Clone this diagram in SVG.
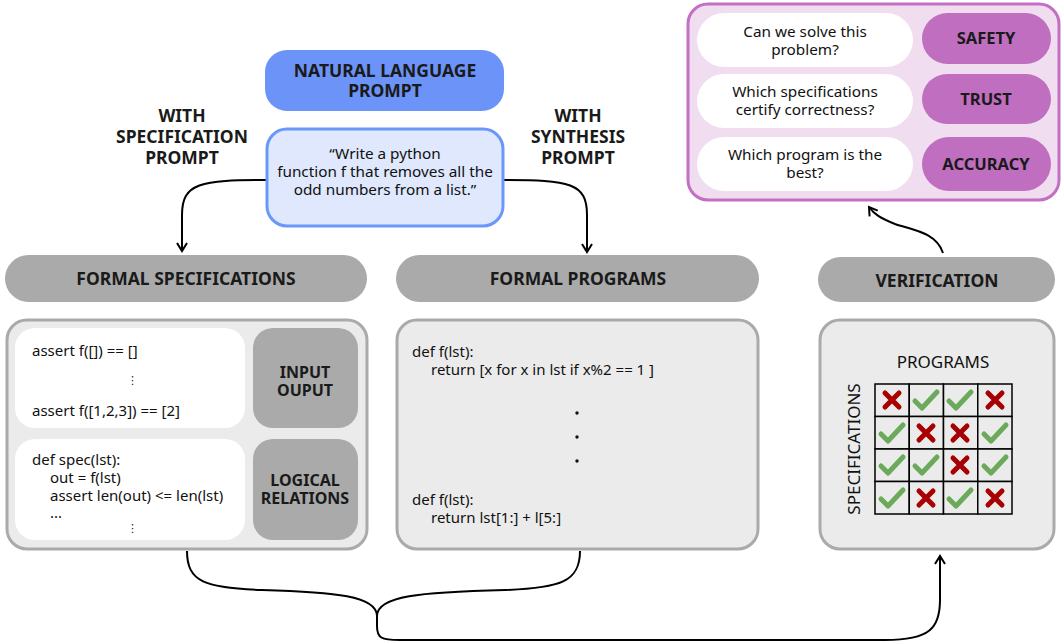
<svg xmlns="http://www.w3.org/2000/svg" xmlns:xlink="http://www.w3.org/1999/xlink" width="1062" height="643" viewBox="0 0 1062 643">
<defs>
<style>
text{font-family:"Noto Sans","Open Sans","DejaVu Sans",sans-serif;fill:#111;}
.h{font-size:17.5px;font-weight:bold;text-anchor:middle;fill:#1a1a1a;}
.c{font-size:15px;}
.q{font-size:15.3px;text-anchor:middle;}
.m{text-anchor:middle;}
.pill{fill:#aaaaaa;}
.box{fill:#ebebeb;stroke:#aaaaaa;stroke-width:3;}
.wh{fill:#ffffff;}
.conn{fill:none;stroke:#000;stroke-width:2;}
.ck{fill:none;stroke:#6aaa5a;stroke-width:5;stroke-linecap:round;stroke-linejoin:round;}
.cx{fill:none;stroke:#a80000;stroke-width:5;stroke-linecap:round;}
.cell{fill:#ebebeb;stroke:#000;stroke-width:1.5;}
</style>
<marker id="arr" viewBox="0 0 12 12" refX="10" refY="6" markerWidth="12" markerHeight="12" markerUnits="userSpaceOnUse" orient="auto">
<path d="M2,1 L10,6 L2,11" fill="none" stroke="#000" stroke-width="2"/>
</marker>
<g id="chk"><path class="ck" d="M-11,1 L-4,8 L11,-8"/></g>
<g id="crs"><path class="cx" d="M-7,-7 L7,7 M7,-7 L-7,7"/></g>
</defs>
<rect width="1062" height="643" fill="#ffffff"/>

<g id="connectors">
<path class="conn" d="M267,180 C200,180 182,183 182,215 L182,251" marker-end="url(#arr)"/>
<path class="conn" d="M503,180 C570,180 587,183 587,215 L587,252" marker-end="url(#arr)"/>
<path class="conn" d="M943,253 C936,232 912,230 895,224 C880,218 874,214 869,207" marker-end="url(#arr)"/>
<path class="conn" d="M187,551 C187,582 205,588 262,590 C335,592 377,596 377,616 L377,626 C377,638 381,640 400,640 L885,640 C930,640 940,628 940,600 L940,556" marker-end="url(#arr)"/>
<path class="conn" d="M580,551 C580,582 560,588 505,590 C420,592 377,596 377,616"/>
</g>

<g id="nl-prompt">
<rect x="265" y="50" width="239" height="61" rx="22" fill="#6b93f8"/>
<text class="h" x="385" y="77">NATURAL LANGUAGE</text>
<text class="h" x="385" y="97">PROMPT</text>
</g>

<g id="quote">
<rect x="267" y="129" width="236" height="97" rx="20" fill="#dfe8fc" stroke="#6b97f9" stroke-width="3"/>
<text class="q" x="385" y="159">“Write a python</text>
<text class="q" x="385" y="177">function f that removes all the</text>
<text class="q" x="385" y="195">odd numbers from a list.”</text>
</g>

<g id="label-spec">
<text class="h" x="182" y="122">WITH</text>
<text class="h" x="182" y="143">SPECIFICATION</text>
<text class="h" x="182" y="164">PROMPT</text>
</g>

<g id="label-synth">
<text class="h" x="578" y="122">WITH</text>
<text class="h" x="578" y="143">SYNTHESIS</text>
<text class="h" x="578" y="164">PROMPT</text>
</g>

<g id="formal-specs-title">
<rect class="pill" x="5" y="255" width="362" height="47" rx="23.5"/>
<text class="h" x="186" y="285">FORMAL SPECIFICATIONS</text>
</g>

<g id="formal-programs-title">
<rect class="pill" x="396" y="255" width="363" height="47" rx="23.5"/>
<text class="h" x="578" y="285">FORMAL PROGRAMS</text>
</g>

<g id="verification-title">
<rect class="pill" x="818" y="257" width="237" height="45" rx="22.5"/>
<text class="h" x="937" y="287">VERIFICATION</text>
</g>

<g id="specs-box">
<rect class="box" x="7" y="320" width="360" height="229" rx="20"/>
<rect class="wh" x="15" y="328" width="230" height="100" rx="20"/>
<rect class="wh" x="15" y="439" width="230" height="101" rx="20"/>
<rect class="pill" x="253" y="328" width="105" height="100" rx="20"/>
<rect class="pill" x="253" y="439" width="105" height="101" rx="20"/>
<text class="c" x="32" y="356">assert f([]) == []</text>
<text x="127" y="384" style="font-size:11px">⋮</text>
<text class="c" x="32" y="416">assert f([1,2,3]) == [2]</text>
<text class="c" x="32" y="465">def spec(lst):</text>
<text class="c" x="50" y="483">out = f(lst)</text>
<text class="c" x="50" y="501">assert len(out) &lt;= len(lst)</text>
<text class="c" x="50" y="518">...</text>
<text x="127" y="532" style="font-size:11px">⋮</text>
<text class="h" style="font-size:16px" x="305" y="378">INPUT</text>
<text class="h" style="font-size:16px" x="305" y="396">OUPUT</text>
<text class="h" style="font-size:16px" x="305" y="486">LOGICAL</text>
<text class="h" style="font-size:16px" x="305" y="504">RELATIONS</text>
</g>

<g id="programs-box">
<rect class="box" x="397" y="320" width="361" height="229" rx="20"/>
<text class="c" x="412" y="357">def f(lst):</text>
<text class="c" x="431" y="375">return [x for x in lst if x%2 == 1 ]</text>
<circle cx="577" cy="413" r="1.7" fill="#111"/>
<circle cx="577" cy="437" r="1.7" fill="#111"/>
<circle cx="577" cy="461" r="1.7" fill="#111"/>
<text class="c" x="412" y="505">def f(lst):</text>
<text class="c" x="431" y="523">return lst[1:] + l[5:]</text>
</g>

<g id="verification-box">
<rect class="box" x="820" y="320" width="234" height="229" rx="20"/>
<text class="m" style="font-size:17px" x="943" y="368">PROGRAMS</text>
<text class="m" style="font-size:17px" transform="translate(860,449) rotate(-90)" x="0" y="0">SPECIFICATIONS</text>
<g>
<rect class="cell" x="875" y="384" width="34.25" height="32.5"/>
<rect class="cell" x="909.25" y="384" width="34.25" height="32.5"/>
<rect class="cell" x="943.5" y="384" width="34.25" height="32.5"/>
<rect class="cell" x="977.75" y="384" width="34.25" height="32.5"/>
<rect class="cell" x="875" y="416.5" width="34.25" height="32.5"/>
<rect class="cell" x="909.25" y="416.5" width="34.25" height="32.5"/>
<rect class="cell" x="943.5" y="416.5" width="34.25" height="32.5"/>
<rect class="cell" x="977.75" y="416.5" width="34.25" height="32.5"/>
<rect class="cell" x="875" y="449" width="34.25" height="32.5"/>
<rect class="cell" x="909.25" y="449" width="34.25" height="32.5"/>
<rect class="cell" x="943.5" y="449" width="34.25" height="32.5"/>
<rect class="cell" x="977.75" y="449" width="34.25" height="32.5"/>
<rect class="cell" x="875" y="481.5" width="34.25" height="32.5"/>
<rect class="cell" x="909.25" y="481.5" width="34.25" height="32.5"/>
<rect class="cell" x="943.5" y="481.5" width="34.25" height="32.5"/>
<rect class="cell" x="977.75" y="481.5" width="34.25" height="32.5"/>
</g>
<use xlink:href="#crs" x="892" y="400"/>
<use xlink:href="#chk" x="926" y="400"/>
<use xlink:href="#chk" x="960" y="400"/>
<use xlink:href="#crs" x="995" y="400"/>
<use xlink:href="#chk" x="892" y="433"/>
<use xlink:href="#crs" x="926" y="433"/>
<use xlink:href="#crs" x="960" y="433"/>
<use xlink:href="#chk" x="995" y="433"/>
<use xlink:href="#chk" x="892" y="465"/>
<use xlink:href="#chk" x="926" y="465"/>
<use xlink:href="#crs" x="960" y="465"/>
<use xlink:href="#chk" x="995" y="465"/>
<use xlink:href="#chk" x="892" y="498"/>
<use xlink:href="#crs" x="926" y="498"/>
<use xlink:href="#chk" x="960" y="498"/>
<use xlink:href="#crs" x="995" y="498"/>
</g>

<g id="goals-box">
<rect x="688" y="4" width="371" height="196" rx="20" fill="#f0ddf0" stroke="#c36fc3" stroke-width="3"/>
<rect class="wh" x="697" y="13" width="216" height="54" rx="27"/>
<rect class="wh" x="697" y="74" width="216" height="54" rx="27"/>
<rect class="wh" x="697" y="137" width="216" height="54" rx="27"/>
<rect x="922" y="13" width="129" height="51" rx="25.5" fill="#c06ec0"/>
<rect x="922" y="74" width="129" height="50" rx="25" fill="#c06ec0"/>
<rect x="922" y="137" width="129" height="54" rx="27" fill="#c06ec0"/>
<text class="q" x="805" y="37">Can we solve this</text>
<text class="q" x="805" y="55">problem?</text>
<text class="q" x="805" y="97">Which specifications</text>
<text class="q" x="805" y="115">certify correctness?</text>
<text class="q" x="805" y="160">Which program is the</text>
<text class="q" x="805" y="178">best?</text>
<text class="h" style="font-size:16.5px" x="986" y="44">SAFETY</text>
<text class="h" style="font-size:16.5px" x="986" y="105">TRUST</text>
<text class="h" style="font-size:16.5px" x="986" y="170">ACCURACY</text>
</g>
</svg>
